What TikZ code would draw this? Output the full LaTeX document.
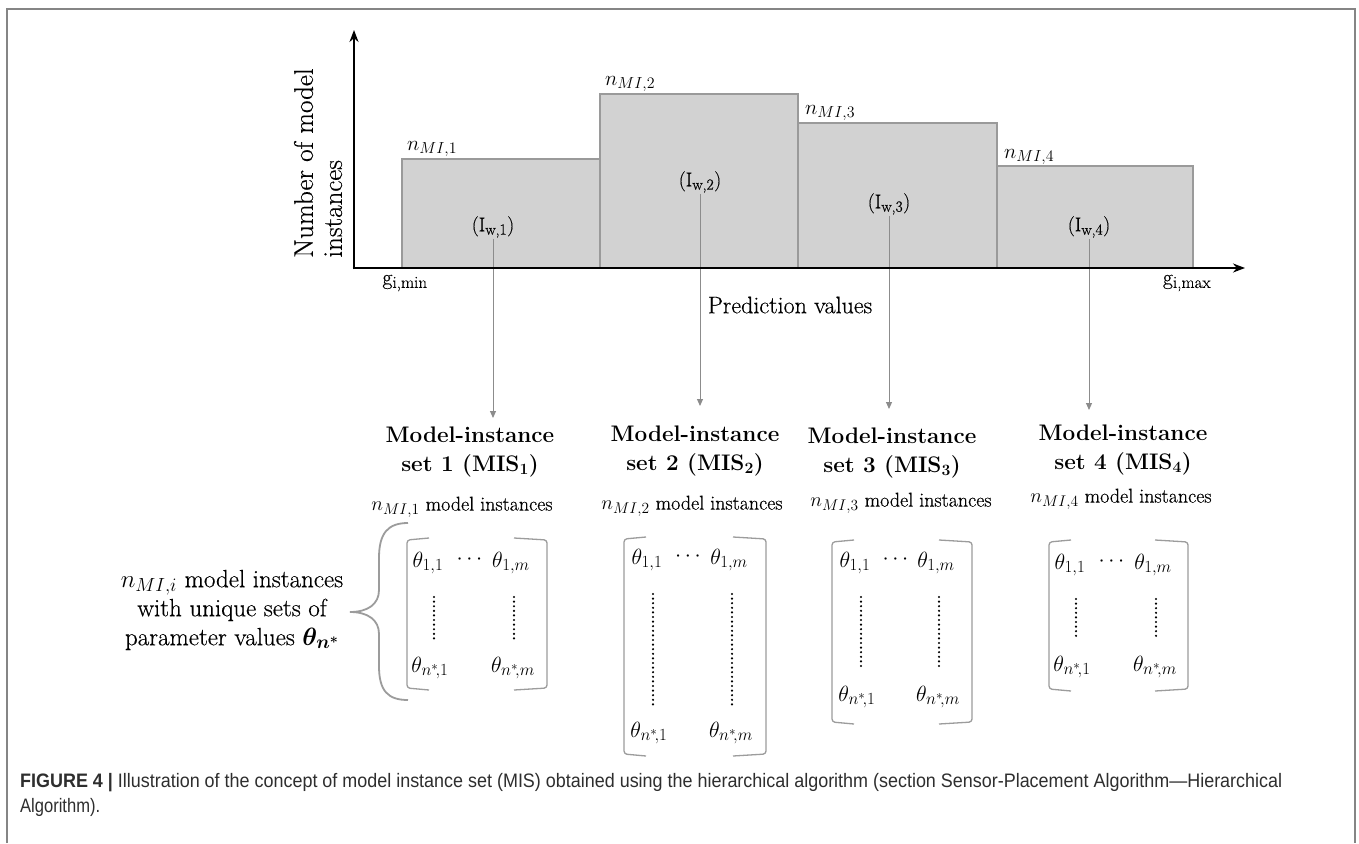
\RequirePackage{fix-cm}
\documentclass[tikz,border=0pt]{standalone}
\usepackage{fontspec}
\usepackage{graphicx}
\usetikzlibrary{arrows.meta}
\newfontfamily\capfont{Liberation Sans}
\newfontfamily\rmheavy{Latin Modern Roman}[FakeBold=0.35]
\newcommand\palf[2]{\rmheavy\fontsize{#1}{#2}\selectfont}
\newcommand\palb[2]{\normalfont\fontsize{#1}{#2}\selectfont\bfseries}
\DeclareMathSizes{18}{18}{14}{11}
\DeclareMathSizes{20}{20}{15.5}{12}
\DeclareMathSizes{21}{21}{16}{12}
\DeclareMathSizes{22}{22}{17}{13}
\DeclareMathSizes{25}{25}{19}{14}
\definecolor{barfill}{HTML}{D2D2D2}
\definecolor{bardraw}{HTML}{9A9A9A}
\definecolor{conn}{HTML}{8C8C8C}
\definecolor{brk}{HTML}{9C9C9C}
\definecolor{framegray}{HTML}{858585}
\definecolor{captext}{HTML}{2E2E2E}
\tikzset{
  bar/.style={fill=barfill,draw=bardraw,line width=1.2pt},
  axis/.style={line width=2.6pt,-{Stealth[length=12pt,width=9pt]}},
  conline/.style={draw=conn,line width=1pt,-{Triangle[length=7pt,width=6pt]}},
  nlab/.style={anchor=base west,inner sep=0pt,font=\palf{21}{24}},
  iwlab/.style={inner sep=1pt,font=\palf{20}{24}},
  axlab/.style={inner sep=0pt,font=\palf{24}{28}},
  glab/.style={inner sep=0pt,font=\palf{22}{26}},
  mistitle/.style={inner sep=0pt,align=center,font=\palb{22.5}{29}},
  misinst/.style={inner sep=0pt,font=\palf{20}{24}},
  theta/.style={inner sep=0pt,font=\palf{22}{26}},
  bracket/.style={draw=brk,line width=1.3pt,rounded corners=3pt},
  vdots/.style={line width=2.4pt,line cap=round,dash pattern=on 0pt off 4.6pt},
}
% #1 name, #2 xl, #3 xr, #4 ytop, #5 ybot, #6 x1, #7 xm, #8 y1, #9 yn
\newcommand\mismat[9]{%
  \draw[bracket] ({#2+22},#4) -- (#2,{#4+2}) -- (#2,{#5-2}) -- ({#2+22},#5);
  \draw[bracket] ({#3-33},{#4}) -- (#3,{#4+2}) -- (#3,{#5-2}) -- ({#3-33},#5);
  \node[theta] (#1-t11) at (#6,#8) {$\theta_{1,1}$};
  \node[theta] (#1-t1m) at (#7,#8) {$\theta_{1,m}$};
  \node[theta] (#1-hd) at ({(#6+#7)/2},{#8-3}) {$\cdots$};
  \node[theta] (#1-tn1) at ({#6+2},#9) {$\theta_{n^*\!,1}$};
  \node[theta] (#1-tnm) at ({#7+2},#9) {$\theta_{n^*\!,m}$};
  \draw[vdots] ({#6+6},{#8+34}) -- ({#6+6},{#9-27});
  \draw[vdots] ({#7+3},{#8+34}) -- ({#7+3},{#9-27});
}
\begin{document}
\begin{tikzpicture}[x=1pt,y=-1pt]
\useasboundingbox (0,0) rectangle (1359,843);
\fill[white] (0,0) rectangle (1359,843);
% frame
\draw[framegray,line width=2pt] (7,843) -- (7,9) -- (1355,9) -- (1355,843);

% bars
\draw[bar] (402,268) rectangle (600,159);
\draw[bar] (600,268) rectangle (798,94);
\draw[bar] (798,268) rectangle (997,123);
\draw[bar] (997,268) rectangle (1193,166);

% bar labels
\node[nlab] (n1) at (407,150) {$n_{MI,1}$};
\node[nlab] (n2) at (605,85) {$n_{MI,2}$};
\node[nlab] (n3) at (805,114) {$n_{MI,3}$};
\node[nlab] (n4) at (1004,158) {$n_{MI,4}$};

\node[iwlab] (iw1) at (493,227) {(I\textsubscript{w,1})};
\node[iwlab] (iw2) at (700,182) {(I\textsubscript{w,2})};
\node[iwlab] (iw3) at (889,204) {(I\textsubscript{w,3})};
\node[iwlab] (iw4) at (1089,227) {(I\textsubscript{w,4})};

% arrow end points
\coordinate (a1) at (493,418);
\coordinate (a2) at (700,406);
\coordinate (a3) at (889,409);
\coordinate (a4) at (1089,410);
\draw[conline] (iw1.south) -- (a1);
\draw[conline] (iw2.south) -- (a2);
\draw[conline] (iw3.south) -- (a3);
\draw[conline] (iw4.south) -- (a4);

% axes
\coordinate (o) at (354,268);
\coordinate (ytip) at (354,30);
\coordinate (xtip) at (1245,268);
\draw[axis] ([yshift=-1.3pt]o) -- (ytip);
\draw[axis] ([xshift=-1.3pt]o) -- (xtip);

\node[axlab,rotate=90,align=left,font=\palf{27}{29}] (ylab) at (318,163) {Number of model\\instances};
\node[axlab] (xlab) at (790,305) {Prediction values};
\node[glab] (gmin) at (405,283) {g\textsubscript{i,min}};
\node[glab] (gmax) at (1187,283) {g\textsubscript{i,max}};

% titles
\node[mistitle] (t1) at (470,452) {Model-instance\\set 1 (MIS\textsubscript{1})};
\node[mistitle] (t2) at (695,451) {Model-instance\\set 2 (MIS\textsubscript{2})};
\node[mistitle] (t3) at (892,453) {Model-instance\\set 3 (MIS\textsubscript{3})};
\node[mistitle] (t4) at (1123,450) {Model-instance\\set 4 (MIS\textsubscript{4})};

\node[misinst] (m1) at (462,507) {$n_{MI,1}$ model instances};
\node[misinst] (m2) at (692,506) {$n_{MI,2}$ model instances};
\node[misinst] (m3) at (901,503) {$n_{MI,3}$ model instances};
\node[misinst] (m4) at (1121,499) {$n_{MI,4}$ model instances};

% matrices
\mismat{M1}{407}{547}{538}{690}{428}{511}{563}{668}
\mismat{M2}{624}{766}{537}{756}{647}{729}{560}{733}
\mismat{M3}{832}{972}{540}{724}{855}{936}{563}{697}
\mismat{M4}{1049}{1188}{540}{691}{1070}{1153}{565}{667}

% brace
\draw[brk,line width=1.8pt] (408,523) .. controls (388,523) and (379,533) .. (379,558)
  -- (379,590) .. controls (379,604) and (368,612) .. (350,612)
  .. controls (368,612) and (379,620) .. (379,634)
  -- (379,666) .. controls (379,691) and (388,700) .. (408,700);

\node[inner sep=0pt,align=center,font=\palf{25}{29}] (lefttext) at (232,610)
  {$n_{MI,i}$ model instances\\with unique sets of\\parameter values {\mathversion{bold}$\theta_{n^*}$}};

% caption
\node[anchor=base west,inner sep=0pt,text=captext,font=\capfont\fontsize{19.5}{23}\selectfont] (cap1) at (20,787)
  {\resizebox{1262pt}{\height}{\textbf{FIGURE 4 |} Illustration of the concept of model instance set (MIS) obtained using the hierarchical algorithm (section Sensor-Placement Algorithm—Hierarchical}};
\node[anchor=base west,inner sep=0pt,text=captext,font=\capfont\fontsize{19.5}{23}\selectfont] (cap2) at (20,812)
  {\resizebox{80pt}{\height}{Algorithm).}};
\end{tikzpicture}
\end{document}
